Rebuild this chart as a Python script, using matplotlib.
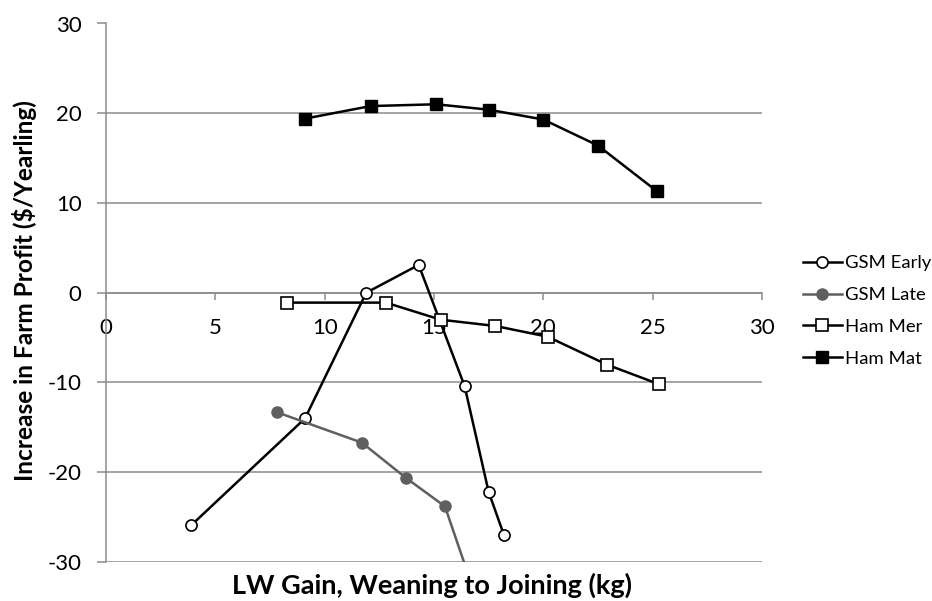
import matplotlib
matplotlib.use("Agg")
import matplotlib.pyplot as plt
import numpy as np

plt.rcParams['font.family'] = ['Lato', 'DejaVu Sans']

# data
gsm_early_x = [3.9, 9.1, 11.9, 14.3, 16.4, 17.5, 18.2]
gsm_early_y = [-25.9, -14.0, 0.0, 3.1, -10.4, -22.2, -27.0]

gsm_late_x = [7.8, 11.7, 13.7, 15.5, 17.0]
gsm_late_y = [-13.3, -16.7, -20.6, -23.8, -34.5]

ham_mer_x = [8.3, 12.8, 15.3, 17.8, 20.2, 22.9, 25.3]
ham_mer_y = [-1.1, -1.1, -3.0, -3.7, -4.9, -8.0, -10.2]

ham_mat_x = [9.1, 12.1, 15.1, 17.5, 20.0, 22.5, 25.2]
ham_mat_y = [19.4, 20.8, 21.0, 20.4, 19.3, 16.4, 11.3]

x_ticks = [0, 5, 10, 15, 20, 25, 30]
y_ticks = [-30, -20, -10, 0, 10, 20, 30]

fig = plt.figure(figsize=(9.32, 6.01), dpi=100)
ax = fig.add_axes([106/932, 1-562/601, (762-106)/932, (562-23.5)/601])

grid_c = '#8c8c8c'
for yt in y_ticks:
    ax.axhline(yt, color=grid_c, lw=1.1, zorder=0)

lw = 1.8
ax.plot(gsm_early_x, gsm_early_y, color='black', lw=lw, marker='o', ms=8,
        mfc='white', mec='black', mew=1.2, label='GSM Early', zorder=3)
ax.plot(gsm_late_x, gsm_late_y, color='#5f5f5f', lw=lw, marker='o', ms=8,
        mfc='#5f5f5f', mec='#5f5f5f', label='GSM Late', zorder=3)
ax.plot(ham_mer_x, ham_mer_y, color='black', lw=lw, marker='s', ms=8.5,
        mfc='white', mec='black', mew=1.2, label='Ham Mer', zorder=3)
ax.plot(ham_mat_x, ham_mat_y, color='black', lw=lw, marker='s', ms=8.5,
        mfc='black', mec='black', label='Ham Mat', zorder=3)

ax.set_xlim(0, 30)
ax.set_ylim(-30, 30)
ax.set_xticks(x_ticks)
ax.set_yticks(y_ticks)
ax.set_yticklabels([str(v) for v in y_ticks])

for s in ['top', 'right']:
    ax.spines[s].set_visible(False)
ax.spines['bottom'].set_position(('data', 0))
ax.spines['bottom'].set_color(grid_c)
ax.spines['left'].set_color(grid_c)
ax.spines['bottom'].set_linewidth(1.1)
ax.spines['left'].set_linewidth(1.1)
ax.tick_params(axis='x', direction='out', length=5, width=1.1, color=grid_c,
               labelsize=16, pad=13)
ax.tick_params(axis='y', direction='out', length=6.5, width=1.1, color=grid_c,
               labelsize=16, pad=11)

fig.text(25/932, 1-291/601, 'Increase in Farm Profit ($/Yearling)', rotation=90,
         ha='center', va='center', fontsize=17.6, fontweight='bold')
fig.text(432/932, 1-585/601, 'LW Gain, Weaning to Joining (kg)',
         ha='center', va='center', fontsize=19.5, fontweight='bold')

fig.legend(loc='center left', bbox_to_anchor=(803/932, 1-311/601), frameon=False,
           fontsize=13.3, handlelength=2.1, handletextpad=0.2, labelspacing=0.85,
           borderpad=0, borderaxespad=0)

fig.savefig('out.png', dpi=100)
